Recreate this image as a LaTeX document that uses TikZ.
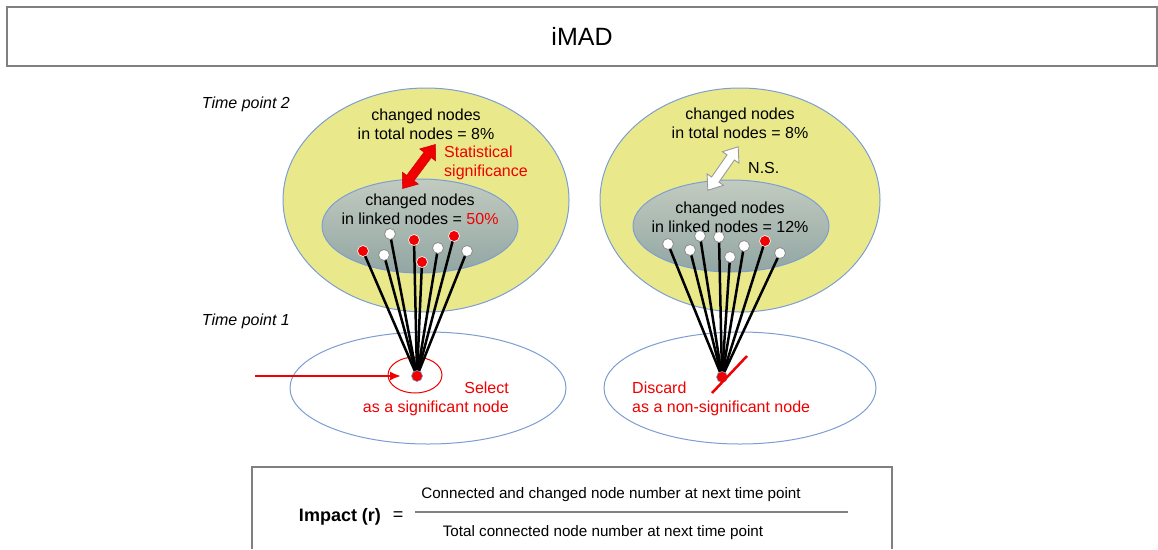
\documentclass[tikz,border=0pt]{standalone}
\usepackage{fontspec}
\setmainfont{Liberation Sans}
\usetikzlibrary{shapes.geometric,arrows.meta}
\pgfdeclarelayer{back}
\pgfdeclarelayer{mid}
\pgfsetlayers{back,mid,main}

\definecolor{fillyellow}{RGB}{233,233,140}
\definecolor{edgeblue}{RGB}{125,158,210}
\definecolor{framegrey}{RGB}{128,128,128}
\definecolor{sigred}{RGB}{240,0,0}
\definecolor{greytop}{RGB}{194,203,192}
\definecolor{greybot}{RGB}{146,166,163}

\tikzset{
  txt/.style={font=\fontsize{16}{19}\selectfont, inner sep=0pt, align=center},
  redtxt/.style={txt, text=sigred},
  timelabel/.style={font=\fontsize{16}{19}\selectfont\itshape, inner sep=0pt},
  outer/.style={ellipse, draw=edgeblue, line width=1pt, fill=fillyellow, inner sep=0pt},
  inner/.style={ellipse, draw=edgeblue, line width=1pt, top color=greytop, bottom color=greybot, inner sep=0pt},
  lower/.style={ellipse, draw=edgeblue, line width=1pt, fill=white, inner sep=0pt},
  changed/.style={circle, fill=sigred, draw=white, line width=0.6pt, minimum size=11pt, inner sep=0pt},
  unchanged/.style={circle, fill=white, draw=black!45, line width=0.8pt, minimum size=11pt, inner sep=0pt},
  hubdot/.style={circle, fill=sigred, draw=edgeblue, line width=0.6pt, minimum size=11pt, inner sep=0pt},
  link/.style={line width=2.5pt, black},
  frame/.style={draw=framegrey, line width=1.5pt},
}

% a block double arrow of length #1 lying along the local x axis
\newcommand\blockarrow[2][]{%
  \path[#1] (-#2/2,0) -- (-#2/2+13,10) -- (-#2/2+13,4.5) -- (#2/2-13,4.5)
    -- (#2/2-13,10) -- (#2/2,0) -- (#2/2-13,-10) -- (#2/2-13,-4.5)
    -- (-#2/2+13,-4.5) -- (-#2/2+13,-10) -- cycle;}

\begin{document}
\begin{tikzpicture}[x=1pt, y=-1pt]
\useasboundingbox (0,0) rectangle (1158,549);

% title bar
\node[frame, minimum width=1150pt, minimum height=59pt, inner sep=0pt] (titlebar) at (582,36.5) {};
\node[font=\fontsize{25}{30}\selectfont] (title) at (titlebar.center) {iMAD};

% time labels
\node[timelabel, anchor=east] (tp2) at (290,104) {Time point 2};
\node[timelabel, anchor=east] (tp1) at (290,321) {Time point 1};

% ellipses
\begin{pgfonlayer}{back}
\node[outer, minimum width=286pt, minimum height=224pt] (outerL) at (426,200) {};
\node[outer, minimum width=280pt, minimum height=224pt] (outerR) at (740,200) {};
\node[inner, minimum width=196pt, minimum height=94pt] (innerL) at (420,226) {};
\node[inner, minimum width=196pt, minimum height=92pt] (innerR) at (731,226) {};
\node[lower, minimum width=276pt, minimum height=112pt] (lowerL) at (428,388) {};
\node[lower, minimum width=272pt, minimum height=112pt] (lowerR) at (740,388) {};
\node[ellipse, draw=sigred, line width=1pt, minimum width=54pt, minimum height=36pt, inner sep=0pt] (ring) at (415,375) {};
\end{pgfonlayer}

% texts in the ellipses
\node[txt] (totalL) at (426,124.5) {changed nodes\\in total nodes = 8\%};
\node[txt] (totalR) at (740,123.5) {changed nodes\\in total nodes = 8\%};
\node[txt] (linkedL) at (420,209.5) {changed nodes\\in linked nodes = \textcolor{sigred}{50\%}};
\node[txt] (linkedR) at (730,217.5) {changed nodes\\in linked nodes = 12\%};
\node[redtxt, anchor=west, align=left] (stat) at (444,162.5) {Statistical\\significance};
\node[txt, anchor=west] (ns) at (748,168) {N.S.};

% double arrows between the percentages
\begin{scope}[shift={(419,166.5)}, rotate=53.3, x=1pt, y=1pt]
  \blockarrow[fill=sigred, draw=sigred!85!black, line width=0.5pt, line join=miter]{55}
\end{scope}
\begin{scope}[shift={(723,168.5)}, rotate=55.1, x=1pt, y=1pt]
  \blockarrow[fill=white, draw=black!40, line width=0.9pt, line join=miter]{53}
\end{scope}

% nodes at time point 1 and 2
\node[hubdot] (hubL) at (417,376) {};
\node[hubdot] (hubR) at (722,377) {};

\node[changed]   (dL1) at (363,251) {};
\node[unchanged] (dL2) at (384,255) {};
\node[unchanged] (dL3) at (390,234) {};
\node[changed]   (dL4) at (414,240) {};
\node[changed]   (dL5) at (422,262) {};
\node[unchanged] (dL6) at (438,248) {};
\node[changed]   (dL7) at (454,236) {};
\node[unchanged] (dL8) at (467,251) {};

\node[unchanged] (dR1) at (668,244) {};
\node[unchanged] (dR2) at (690,250) {};
\node[unchanged] (dR3) at (700,236) {};
\node[unchanged] (dR4) at (719,237) {};
\node[unchanged] (dR5) at (730,257) {};
\node[unchanged] (dR6) at (744,246) {};
\node[changed]   (dR7) at (765,241) {};
\node[unchanged] (dR8) at (780,253) {};

\begin{pgfonlayer}{mid}
\foreach \k in {1,...,8} {
  \draw[link] (hubL.center) -- (dL\k.center);
  \draw[link] (hubR.center) -- (dR\k.center);
}
\end{pgfonlayer}

% selection arrow and discard stroke
\coordinate (pointer) at (255,376);
\coordinate (aim) at (401,376);
\draw[sigred, line width=2pt, -{Latex[length=11pt,width=9pt]}] (pointer) -- (aim);
\coordinate (cutA) at (712,393);
\coordinate (cutB) at (747,356);
\draw[sigred, line width=2.5pt] (cutA) -- (cutB);

\node[redtxt, anchor=east, align=right] (select) at (509,399) {Select\\as a significant node};
\node[redtxt, anchor=west, align=left] (discard) at (632,398.5) {Discard\\as a non-significant node};

% impact formula
\coordinate (boxBL) at (252,549);
\coordinate (boxTR) at (892,467);
\coordinate (boxBR) at (892,549);
\draw[frame] (boxBL) |- (boxTR) -- (boxBR);
\node[font=\fontsize{18}{22}\selectfont\bfseries, inner sep=0pt] (impact) at (340,517) {Impact (r)};
\node[font=\fontsize{18}{22}\selectfont, inner sep=0pt] (eq) at (398,516) {=};
\coordinate (fracL) at (415,512);
\coordinate (fracR) at (848,512);
\draw[framegrey, line width=1.3pt] (fracL) -- (fracR);
\node[font=\fontsize{15.2}{18}\selectfont, inner sep=0pt] (num) at (611,495) {Connected and changed node number at next time point};
\node[font=\fontsize{15.2}{18}\selectfont, inner sep=0pt] (den) at (603,533) {Total connected node number at next time point};
\end{tikzpicture}
\end{document}
